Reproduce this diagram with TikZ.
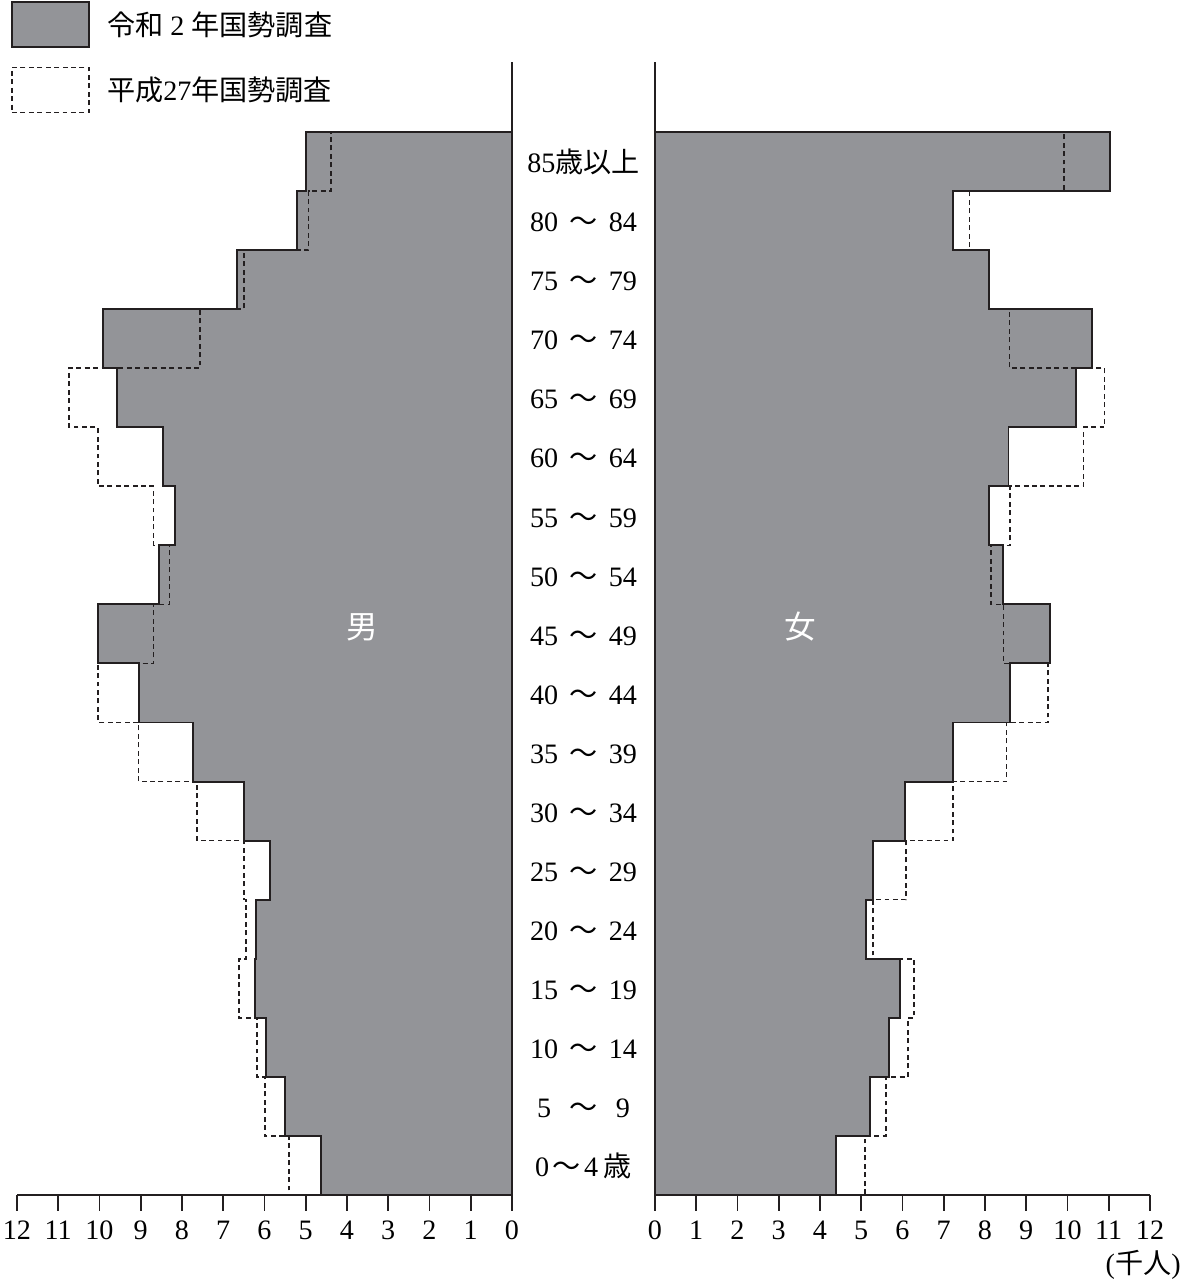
\documentclass[tikz,border=0pt]{standalone}
\usepackage{fontspec}
\setmainfont{Liberation Serif}
\newfontfamily\cjk{Noto Sans CJK JP}
\newcommand{\jp}[1]{{\cjk #1}}
\usetikzlibrary{positioning}
\definecolor{barfill}{RGB}{147,148,152}
\definecolor{ink}{RGB}{35,31,32}
\tikzset{
  newbar/.style={draw=ink, line width=1.1pt, line join=miter},
  oldbar/.style={draw=ink, line width=0.9pt, dash pattern=on 2.8pt off 2pt},
  axisline/.style={draw=ink, line width=1.6pt},
  tickline/.style={draw=ink, line width=0.9pt},
  keybox/.style={minimum width=1.54cm, minimum height=0.9cm, inner sep=0pt},
  keytext/.style={inner sep=0pt, font=\fontsize{16}{19}\selectfont},
  agelabel/.style={inner sep=0pt, anchor=base},
}
\begin{document}
\begin{tikzpicture}[x=0.825cm, y=1.1812cm, font=\fontsize{16}{19}\selectfont]
  \def\gap{3.467}
  \useasboundingbox (-12.412,-1.456) rectangle (16.218,20.234);
  % 0-4 ... 85+ (thousands)
  \def\menNew{4.64,5.50,5.96,6.23,6.20,5.87,6.50,7.73,9.04,10.04,8.56,8.16,8.45,9.58,9.92,6.66,5.21,5.00}
  \def\menOld{5.41,5.99,6.18,6.62,6.45,6.49,7.63,9.05,10.03,8.69,8.30,8.69,10.04,10.74,7.56,6.49,4.93,4.39}
  \def\womenNew{4.38,5.21,5.67,5.94,5.11,5.28,6.06,7.23,8.61,9.57,8.43,8.10,8.57,10.20,10.59,8.10,7.23,11.03}
  \def\womenOld{5.09,5.60,6.13,6.28,5.28,6.09,7.23,8.52,9.53,8.45,8.15,8.61,10.39,10.90,8.59,8.10,7.62,9.91}
  % men
  \fill[barfill] (0,0) foreach \v [count=\i] in \menNew { -- (-\v,\i-1) -- (-\v,\i) } -- (0,18) -- cycle;
  \draw[newbar] (0,0) foreach \v [count=\i] in \menNew { -- (-\v,\i-1) -- (-\v,\i) } -- (0,18);
  \draw[oldbar] (0,0) foreach \v [count=\i] in \menOld { -- (-\v,\i-1) -- (-\v,\i) } -- (0,18);
  % women
  \begin{scope}[shift={(\gap,0)}]
    \fill[barfill] (0,0) foreach \v [count=\i] in \womenNew { -- (\v,\i-1) -- (\v,\i) } -- (0,18) -- cycle;
    \draw[newbar] (0,0) foreach \v [count=\i] in \womenNew { -- (\v,\i-1) -- (\v,\i) } -- (0,18);
    \draw[oldbar] (0,0) foreach \v [count=\i] in \womenOld { -- (\v,\i-1) -- (\v,\i) } -- (0,18);
  \end{scope}
  % axes
  \draw[axisline] (0,19.18) -- (0,0) -- (-12,0);
  \draw[axisline] (\gap,19.18) -- (\gap,0) -- (\gap+12,0);
  \foreach \t in {0,...,12}
  {\draw[tickline] (-\t,0) -- (-\t,-0.27);
    \node (ml\t) [agelabel] at (-\t,-0.76) {\t};
    \draw[tickline] (\gap+\t,0) -- (\gap+\t,-0.27);
    \node (fl\t) [agelabel] at (\gap+\t,-0.76) {\t};}
  \node (unit) [inner sep=0pt, anchor=base east] at (16.218,-1.33) {(\jp{千人})};
  % age groups
  \node (age0) [agelabel] at (\gap/2,0.31) {0\hspace{0.12em}\jp{〜}\hspace{0.12em}4\hspace{0.2em}\jp{歳}};
  \foreach \a [count=\i, evaluate=\a as \b using int(\a+4)] in {5,10,...,80}
  {\node (age\i) [agelabel] at (\gap/2,\i+0.31) {\makebox[1em]{\a}\hspace{0.4em}\jp{〜}\hspace{0.4em}\makebox[1em]{\b}};}
  \node (age17) [agelabel] at (\gap/2,17.31) {85\jp{歳以上}};
  \node (men) [text=white, font=\fontsize{18}{22}\selectfont\cjk] at (-3.64,9.62) {男};
  \node (women) [text=white, font=\fontsize{18}{22}\selectfont\cjk] at (6.98,9.62) {女};
  % legend
  \node (keyNew) [keybox, newbar, fill=barfill] at (-11.19,19.82) {};
  \node (keyOld) [keybox, oldbar] at (-11.19,18.71) {};
  \node (keyNewText) [keytext, right=0.34cm of keyNew] {\jp{令和} 2 \jp{年国勢調査}};
  \node (keyOldText) [keytext, right=0.34cm of keyOld] {\jp{平成}27\jp{年国勢調査}};
\end{tikzpicture}
\end{document}
